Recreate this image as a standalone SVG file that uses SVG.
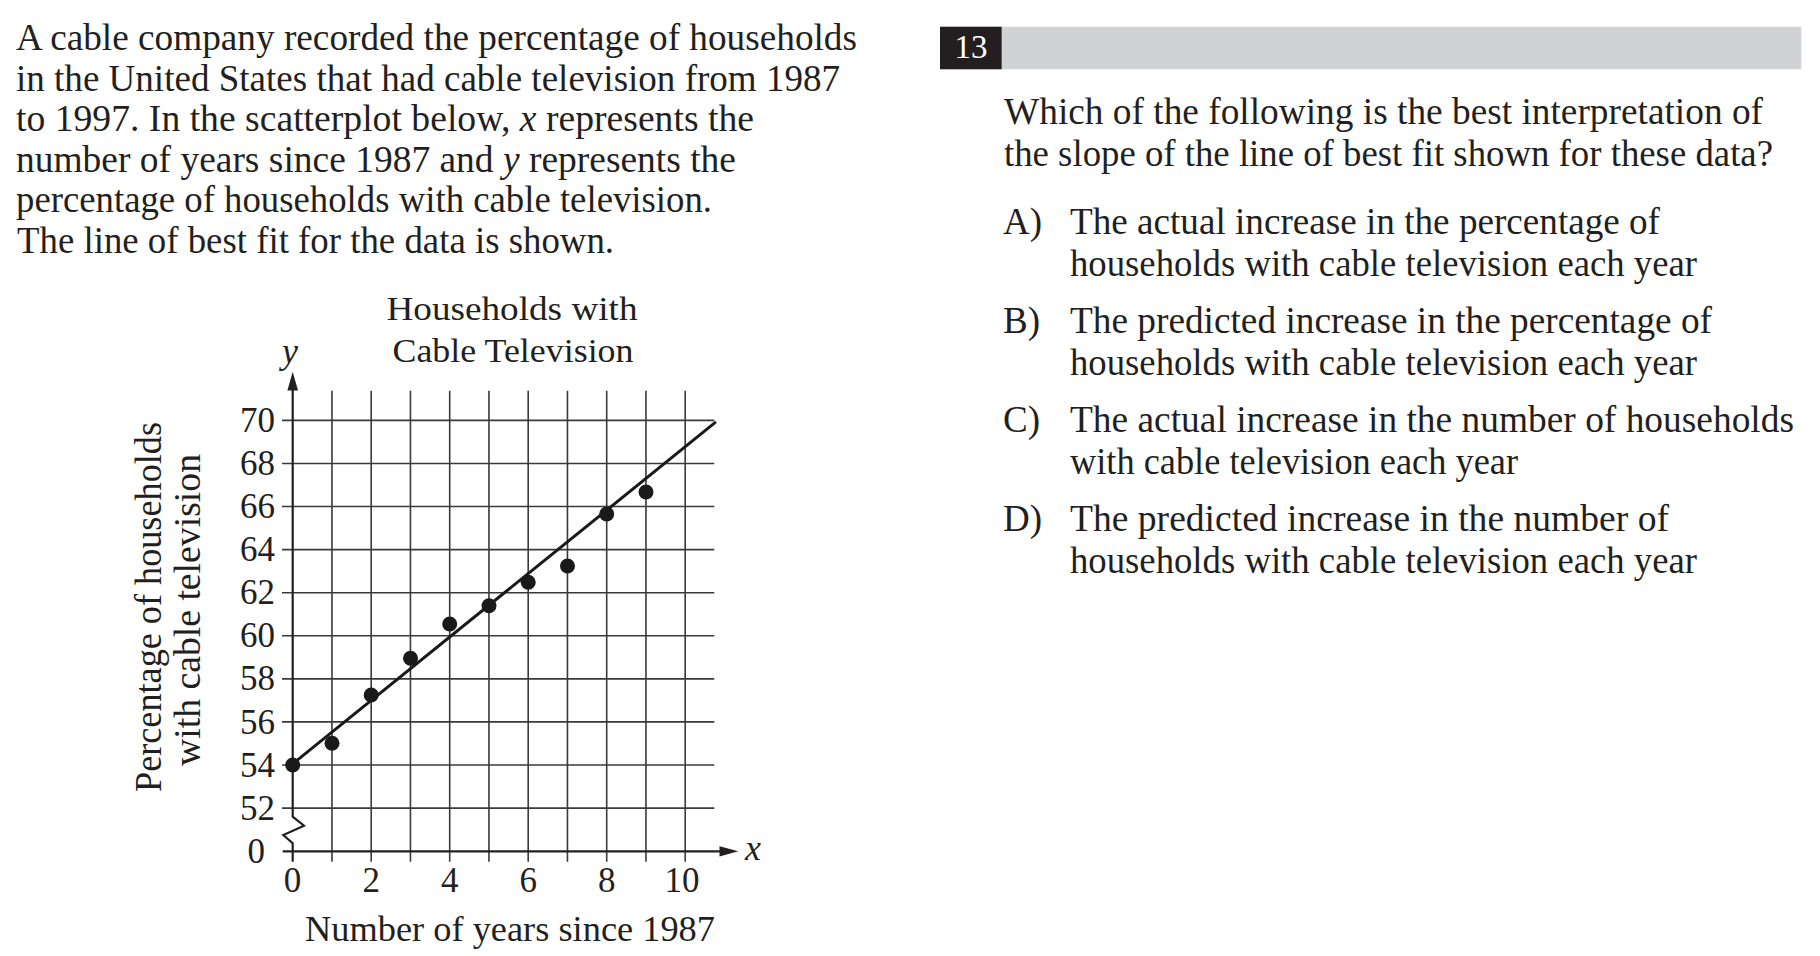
<svg xmlns="http://www.w3.org/2000/svg" width="1820" height="956" viewBox="0 0 1820 956">
<style>
text{font-family:"Liberation Serif","Times New Roman",serif;fill:#231f20}
.body{font-size:37px}
.title{font-size:34px;text-anchor:middle}
.tick{font-size:35px}
.ty{text-anchor:end}
.tx{text-anchor:middle}
.it{font-style:italic}
.grid{stroke:#3a3a3a;stroke-width:1.6;fill:none}
.axis{stroke:#231f20;stroke-width:2.2;fill:none}
.fit{stroke:#1a1a1a;stroke-width:3;fill:none;stroke-linecap:round}
.dot{fill:#1a1a1a}
</style>
<rect width="1820" height="956" fill="#ffffff"/>

<g id="intro">
<text class="body" x="16" y="50" textLength="841" lengthAdjust="spacingAndGlyphs">A cable company recorded the percentage of households</text>
<text class="body" x="16" y="90.5" textLength="824" lengthAdjust="spacingAndGlyphs">in the United States that had cable television from 1987</text>
<text class="body" x="16" y="131" textLength="738" lengthAdjust="spacingAndGlyphs">to 1997. In the scatterplot below, <tspan class="it">x</tspan> represents the</text>
<text class="body" x="16" y="171.5" textLength="720" lengthAdjust="spacingAndGlyphs">number of years since 1987 and <tspan class="it">y</tspan> represents the</text>
<text class="body" x="16" y="212" textLength="696" lengthAdjust="spacingAndGlyphs">percentage of households with cable television.</text>
<text class="body" x="17" y="252.5" textLength="597" lengthAdjust="spacingAndGlyphs">The line of best fit for the data is shown.</text>
</g>

<g id="chart-title">
<text class="title" x="512" y="319.5" textLength="251" lengthAdjust="spacingAndGlyphs">Households with</text>
<text class="title" x="513" y="361.5" textLength="241" lengthAdjust="spacingAndGlyphs">Cable Television</text>
</g>

<g id="y-title">
<text class="title" style="font-size:37px" transform="translate(161,607) rotate(-90)" x="0" y="0" textLength="370" lengthAdjust="spacingAndGlyphs">Percentage of households</text>
<text class="title" style="font-size:37px" transform="translate(200,610) rotate(-90)" x="0" y="0" textLength="312" lengthAdjust="spacingAndGlyphs">with cable television</text>
</g>

<g id="grid">
<path class="grid" d="M331.95,390.7V861.7M371.2,390.7V861.7M410.45,390.7V861.7M449.7,390.7V861.7M488.95,390.7V861.7M528.2,390.7V861.7M567.45,390.7V861.7M606.7,390.7V861.7M645.95,390.7V861.7M685.2,390.7V861.7"/>
<path class="grid" d="M282,420.36H714.3M282,463.44H714.3M282,506.52H714.3M282,549.6H714.3M282,592.68H714.3M282,635.76H714.3M282,678.84H714.3M282,721.92H714.3M282,765H714.3M282,808.08H714.3"/>
</g>

<g id="axes">
<path class="axis" d="M292.7,861.7V843.3L283.3,835L304,825.7L292.7,816.7V390"/>
<polygon points="292.7,371.7 287.4,390.5 298,390.5" fill="#231f20"/>
<path class="axis" d="M282.7,851.3H720"/>
<polygon points="738.3,851.3 719.5,846.2 719.5,856.4" fill="#231f20"/>
<text class="body it" x="290" y="363" style="font-size:36px;text-anchor:middle">y</text>
<text class="body it" x="745" y="860" style="font-size:36px">x</text>
</g>

<g id="y-ticks">
<text class="tick ty" x="275" y="432">70</text>
<text class="tick ty" x="275" y="475">68</text>
<text class="tick ty" x="275" y="518">66</text>
<text class="tick ty" x="275" y="561">64</text>
<text class="tick ty" x="275" y="604">62</text>
<text class="tick ty" x="275" y="647">60</text>
<text class="tick ty" x="275" y="690">58</text>
<text class="tick ty" x="275" y="733.5">56</text>
<text class="tick ty" x="275" y="776.5">54</text>
<text class="tick ty" x="275" y="819.5">52</text>
<text class="tick ty" x="265" y="862.7">0</text>
</g>

<g id="x-ticks">
<text class="tick tx" x="292.5" y="891.7">0</text>
<text class="tick tx" x="371.2" y="891.7">2</text>
<text class="tick tx" x="449.7" y="891.7">4</text>
<text class="tick tx" x="528.2" y="891.7">6</text>
<text class="tick tx" x="606.7" y="891.7">8</text>
<text class="tick tx" x="682" y="891.7">10</text>
<text class="title" style="font-size:36px" x="510" y="941" textLength="410" lengthAdjust="spacingAndGlyphs">Number of years since 1987</text>
</g>

<g id="fit-line">
<path class="fit" d="M293.3,763.3L715,422.7"/>
</g>

<g id="points">
<circle class="dot" cx="292.7" cy="765" r="7.5"/>
<circle class="dot" cx="332" cy="743.3" r="7.5"/>
<circle class="dot" cx="371.2" cy="695" r="7.5"/>
<circle class="dot" cx="410.5" cy="658.3" r="7.5"/>
<circle class="dot" cx="449.7" cy="624" r="7.5"/>
<circle class="dot" cx="489" cy="605.7" r="7.5"/>
<circle class="dot" cx="528.2" cy="582.3" r="7.5"/>
<circle class="dot" cx="567.5" cy="566" r="7.5"/>
<circle class="dot" cx="606.7" cy="514" r="7.5"/>
<circle class="dot" cx="646" cy="492" r="7.5"/>
</g>

<g id="question-header">
<rect x="1001.7" y="26.7" width="799.6" height="42.6" fill="#d1d2d4"/>
<rect x="940" y="26.7" width="61.7" height="42.6" fill="#231f20"/>
<text x="971" y="58.3" style="font-size:33px;text-anchor:middle;fill:#ffffff">13</text>
</g>

<g id="question">
<text class="body" x="1004" y="124" textLength="759" lengthAdjust="spacingAndGlyphs">Which of the following is the best interpretation of</text>
<text class="body" x="1004" y="166" textLength="769" lengthAdjust="spacingAndGlyphs">the slope of the line of best fit shown for these data?</text>
</g>

<g id="option-a">
<text class="body" x="1003" y="234">A)</text>
<text class="body" x="1070" y="234" textLength="590" lengthAdjust="spacingAndGlyphs">The actual increase in the percentage of</text>
<text class="body" x="1070" y="276" textLength="627" lengthAdjust="spacingAndGlyphs">households with cable television each year</text>
</g>
<g id="option-b">
<text class="body" x="1003" y="333">B)</text>
<text class="body" x="1070" y="333" textLength="642" lengthAdjust="spacingAndGlyphs">The predicted increase in the percentage of</text>
<text class="body" x="1070" y="375" textLength="627" lengthAdjust="spacingAndGlyphs">households with cable television each year</text>
</g>
<g id="option-c">
<text class="body" x="1003" y="432">C)</text>
<text class="body" x="1070" y="432" textLength="724" lengthAdjust="spacingAndGlyphs">The actual increase in the number of households</text>
<text class="body" x="1070" y="474" textLength="448" lengthAdjust="spacingAndGlyphs">with cable television each year</text>
</g>
<g id="option-d">
<text class="body" x="1003" y="531">D)</text>
<text class="body" x="1070" y="531" textLength="599" lengthAdjust="spacingAndGlyphs">The predicted increase in the number of</text>
<text class="body" x="1070" y="573" textLength="627" lengthAdjust="spacingAndGlyphs">households with cable television each year</text>
</g>
</svg>
